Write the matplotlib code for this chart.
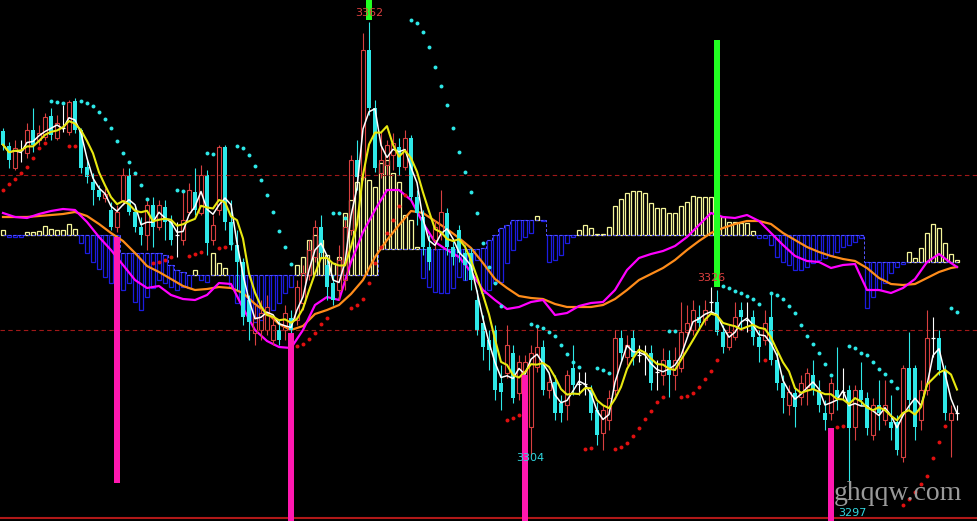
import numpy as np
import pandas as pd
import matplotlib
matplotlib.use("Agg")
import matplotlib.pyplot as plt

# K线数据 (每根K线: 开, 收, 高, 低)
opens = [
    3347.5, 3345.5, 3342.6, 3345.0, 3344.6, 3347.7, 3346.3, 3346.7, 3349.5, 3346.6,
    3347.9, 3347.4, 3351.5, 3347.7, 3342.7, 3340.7, 3339.7, 3338.6, 3337.0, 3334.7,
    3338.3, 3341.7, 3336.7, 3334.7, 3333.7, 3337.7, 3334.7, 3337.4, 3335.4, 3333.7,
    3333.0, 3336.7, 3339.4, 3336.6, 3341.7, 3333.0, 3337.0, 3345.4, 3335.4, 3332.3,
    3330.1, 3325.0, 3320.6, 3321.0, 3321.0, 3319.7, 3321.0, 3321.0, 3322.6, 3322.3,
    3324.6, 3328.3, 3330.7, 3334.7, 3329.7, 3327.3, 3326.3, 3327.7, 3334.3, 3343.7,
    3341.4, 3358.3, 3350.6, 3341.9, 3343.0, 3344.3, 3345.4, 3342.7, 3346.6, 3338.7,
    3336.1, 3332.1, 3333.0, 3333.9, 3336.6, 3332.1, 3334.3, 3331.3, 3331.3, 3325.0,
    3321.9, 3319.7, 3321.0, 3313.9, 3315.3, 3317.9, 3312.6, 3311.7, 3308.1, 3316.1,
    3318.7, 3313.0, 3314.1, 3311.3, 3311.0, 3315.9, 3313.8, 3313.8, 3313.0, 3310.3,
    3307.3, 3309.0, 3313.0, 3319.9, 3317.4, 3319.9, 3317.7, 3317.9, 3317.9, 3315.4,
    3315.0, 3317.0, 3315.0, 3315.9, 3320.7, 3321.0, 3322.7, 3322.3, 3324.7, 3324.7,
    3320.7, 3318.7, 3320.1, 3323.7, 3322.3, 3322.7, 3320.1, 3319.7, 3322.7, 3317.0,
    3313.9, 3311.0, 3312.6, 3312.1, 3313.4, 3315.0, 3313.0, 3309.9, 3309.9, 3313.0,
    3312.7, 3313.0, 3308.1, 3313.0, 3311.9, 3307.0, 3311.0, 3309.0, 3308.7, 3308.7,
    3304.1, 3315.9, 3315.9, 3309.0, 3313.0, 3319.9, 3319.9, 3315.7, 3309.0, 3309.9,
]
closes = [
    3345.7, 3343.7, 3345.3, 3345.0, 3347.7, 3345.7, 3347.3, 3349.4, 3347.0, 3348.6,
    3347.9, 3351.4, 3347.7, 3342.6, 3341.4, 3339.7, 3338.7, 3339.1, 3334.7, 3336.7,
    3341.7, 3336.7, 3334.7, 3333.7, 3337.7, 3334.7, 3337.7, 3335.4, 3333.0, 3333.7,
    3335.7, 3339.7, 3337.0, 3341.7, 3332.6, 3335.0, 3345.4, 3335.4, 3332.3, 3330.1,
    3322.7, 3322.1, 3322.7, 3323.3, 3324.1, 3321.7, 3319.7, 3323.3, 3321.0, 3326.7,
    3328.6, 3331.7, 3334.7, 3331.3, 3326.7, 3325.0, 3330.3, 3334.7, 3343.7, 3341.4,
    3358.3, 3350.6, 3342.6, 3343.7, 3345.7, 3345.9, 3342.7, 3346.6, 3338.7, 3336.6,
    3332.1, 3330.1, 3334.7, 3336.7, 3332.1, 3330.7, 3331.3, 3329.7, 3327.7, 3321.0,
    3318.7, 3318.3, 3313.0, 3312.7, 3319.0, 3311.9, 3316.7, 3316.7, 3317.9, 3318.7,
    3313.0, 3314.1, 3309.9, 3309.9, 3315.0, 3313.7, 3313.8, 3313.8, 3309.9, 3307.0,
    3310.3, 3311.9, 3319.9, 3317.9, 3319.0, 3317.4, 3317.7, 3317.9, 3313.9, 3315.4,
    3317.0, 3315.0, 3317.0, 3320.7, 3321.9, 3323.7, 3321.9, 3323.7, 3324.7, 3320.7,
    3318.7, 3320.7, 3322.7, 3322.7, 3322.3, 3320.1, 3318.7, 3321.9, 3317.0, 3313.9,
    3311.9, 3312.7, 3310.7, 3313.9, 3315.3, 3313.0, 3311.0, 3309.0, 3313.9, 3312.1,
    3312.7, 3307.9, 3313.0, 3311.7, 3307.9, 3311.0, 3309.9, 3311.0, 3307.9, 3305.0,
    3315.9, 3311.7, 3308.1, 3313.0, 3319.9, 3319.9, 3315.7, 3309.9, 3309.9, 3309.9,
]
highs = [
    3347.9, 3346.1, 3346.3, 3346.3, 3348.6, 3350.6, 3348.3, 3349.9, 3350.6, 3349.7,
    3351.0, 3351.7, 3351.9, 3347.9, 3343.7, 3341.9, 3340.3, 3339.9, 3338.1, 3337.7,
    3342.6, 3342.6, 3337.7, 3336.1, 3338.3, 3338.7, 3338.3, 3338.3, 3336.3, 3335.4,
    3339.7, 3340.6, 3342.6, 3343.0, 3342.3, 3336.3, 3345.7, 3345.7, 3338.3, 3334.3,
    3330.6, 3325.7, 3324.3, 3325.0, 3325.7, 3323.0, 3322.3, 3324.3, 3323.7, 3327.7,
    3329.7, 3333.0, 3335.7, 3336.3, 3331.0, 3328.3, 3332.3, 3336.3, 3344.3, 3346.3,
    3360.6, 3362.0, 3351.7, 3347.4, 3346.3, 3347.3, 3346.6, 3347.7, 3347.0, 3339.7,
    3337.0, 3333.7, 3335.7, 3339.7, 3337.3, 3333.0, 3335.0, 3332.3, 3331.9, 3326.3,
    3323.0, 3321.0, 3321.7, 3316.3, 3321.7, 3319.0, 3317.7, 3317.7, 3319.0, 3321.7,
    3319.7, 3315.0, 3315.0, 3312.3, 3315.7, 3319.0, 3315.4, 3315.4, 3313.7, 3311.4,
    3311.0, 3313.0, 3321.0, 3321.0, 3320.3, 3321.0, 3319.0, 3319.0, 3319.0, 3317.0,
    3318.6, 3318.3, 3318.7, 3324.7, 3324.3, 3325.0, 3324.3, 3325.0, 3326.7, 3326.3,
    3321.7, 3321.7, 3324.7, 3324.7, 3324.7, 3323.7, 3321.0, 3323.7, 3325.9, 3318.3,
    3315.0, 3313.7, 3313.3, 3315.0, 3315.9, 3317.0, 3314.3, 3311.7, 3314.6, 3318.7,
    3315.9, 3313.7, 3313.7, 3316.7, 3312.7, 3311.9, 3314.3, 3314.3, 3312.3, 3309.7,
    3316.3, 3320.7, 3316.3, 3314.3, 3323.7, 3322.7, 3321.0, 3316.3, 3311.0, 3311.0,
]
lows = [
    3345.0, 3342.6, 3342.3, 3343.4, 3343.9, 3344.7, 3345.7, 3346.3, 3346.3, 3346.3,
    3347.4, 3347.0, 3347.3, 3341.9, 3340.6, 3337.7, 3338.3, 3338.1, 3334.3, 3334.1,
    3337.7, 3336.3, 3334.1, 3332.3, 3331.7, 3332.1, 3334.3, 3333.0, 3332.3, 3330.7,
    3332.3, 3336.3, 3336.3, 3336.3, 3331.0, 3332.3, 3336.3, 3334.3, 3331.7, 3326.3,
    3321.7, 3319.7, 3319.0, 3319.7, 3320.3, 3319.0, 3319.0, 3319.7, 3319.9, 3321.7,
    3323.7, 3327.7, 3330.1, 3330.6, 3325.0, 3324.3, 3325.0, 3326.3, 3333.7, 3339.7,
    3341.0, 3349.7, 3342.1, 3341.3, 3341.7, 3342.3, 3341.7, 3342.3, 3338.3, 3335.0,
    3331.0, 3329.0, 3331.7, 3333.0, 3331.0, 3329.7, 3330.1, 3327.7, 3326.3, 3320.3,
    3317.0, 3315.7, 3311.7, 3310.3, 3314.6, 3311.3, 3311.7, 3307.3, 3304.3, 3315.4,
    3312.3, 3311.9, 3309.0, 3308.7, 3309.0, 3312.3, 3312.3, 3312.3, 3309.0, 3305.7,
    3305.0, 3307.7, 3312.3, 3317.0, 3316.3, 3316.3, 3316.7, 3315.0, 3313.0, 3313.0,
    3313.7, 3312.1, 3313.0, 3315.4, 3320.3, 3320.3, 3321.0, 3321.7, 3323.3, 3320.3,
    3317.9, 3318.3, 3319.7, 3321.0, 3320.7, 3319.0, 3316.7, 3319.0, 3316.3, 3313.0,
    3309.9, 3309.7, 3308.1, 3311.0, 3311.0, 3312.3, 3310.1, 3307.7, 3309.0, 3310.3,
    3311.7, 3299.5, 3306.3, 3311.0, 3307.0, 3306.3, 3307.7, 3308.3, 3306.3, 3304.3,
    3303.4, 3310.3, 3306.3, 3307.7, 3312.3, 3317.4, 3315.0, 3309.0, 3304.1, 3309.0,
]

# SAR 点
sar = [
    3339.7, 3340.5, 3341.1, 3341.9, 3342.7, 3343.9, 3345.3, 3345.9, 3351.5, 3351.4,
    3351.3, 3345.5, 3345.5, 3351.5, 3351.3, 3350.9, 3350.1, 3349.1, 3347.9, 3346.2,
    3344.6, 3343.4, 3341.9, 3340.3, 3338.5, 3329.9, 3330.1, 3330.3, 3330.7, 3339.7,
    3339.5, 3330.9, 3331.1, 3331.4, 3344.6, 3344.5, 3331.9, 3332.1, 3332.6, 3345.5,
    3345.3, 3344.3, 3342.9, 3341.0, 3339.0, 3336.7, 3334.2, 3332.1, 3329.8, 3318.9,
    3319.1, 3319.8, 3320.6, 3321.8, 3322.6, 3336.6, 3336.6, 3335.9, 3323.9, 3324.3,
    3325.1, 3327.3, 3329.9, 3332.1, 3333.9, 3335.7, 3337.5, 3339.0, 3362.3, 3361.9,
    3360.7, 3358.7, 3356.1, 3353.5, 3351.0, 3347.9, 3344.7, 3342.1, 3339.4, 3336.6,
    3332.6, 3329.4, 3327.3, 3324.2, 3309.0, 3309.3, 3309.7, 3310.1, 3321.8, 3321.5,
    3321.3, 3320.7, 3320.2, 3319.0, 3317.8, 3316.7, 3316.1, 3305.1, 3305.3, 3315.9,
    3315.7, 3315.3, 3305.1, 3305.4, 3305.9, 3306.9, 3307.9, 3309.1, 3310.2, 3311.4,
    3312.1, 3320.9, 3320.9, 3312.1, 3312.2, 3312.6, 3313.4, 3314.5, 3315.5, 3317.0,
    3326.9, 3326.6, 3326.2, 3325.9, 3325.5, 3325.1, 3324.5, 3317.0, 3325.9, 3325.7,
    3325.1, 3324.2, 3323.3, 3321.7, 3320.2, 3319.1, 3317.9, 3316.5, 3315.0, 3308.1,
    3308.2, 3318.9, 3318.6, 3317.9, 3317.7, 3316.7, 3315.8, 3315.1, 3314.2, 3313.3,
    3297.7, 3298.5, 3299.4, 3300.5, 3301.5, 3303.9, 3306.1, 3308.2, 3323.9, 3323.4,
]

# 副图指标 (柱状: 基线 + 终点, 两条线每两根K线取一个值)
hist_base = ([0.0] * 20 + [-1.8] * 7 + [-2.0, -3.0, -3.5, -3.7] + [-4.0] * 32
             + [-1.4] * 17 + [-1.3, -0.5, 0.0, 0.7, 1.0] + [1.5] * 6
             + [0.0] * 53 + [-2.7] * 16)
hist_end = [
    0.5, -0.2, -0.2, -0.2, 0.3, 0.3, 0.4, 0.9, 0.6, 0.5,
    0.5, 1.1, 0.6, -0.8, -1.8, -2.7, -3.4, -4.2, -4.8, -5.0,
    -5.5, -4.8, -6.7, -7.5, -6.2, -5.3, -4.5, -4.8, -5.2, -5.5,
    -5.2, -5.3, -3.5, -4.5, -4.7, -1.8, -2.8, -3.3, -5.2, -6.8,
    -7.8, -8.5, -8.7, -8.5, -7.8, -7.5, -6.8, -5.8, -5.2, -3.0,
    -2.2, -0.5, 0.0, -0.5, -2.0, -2.8, -2.2, 2.2, 3.5, 5.3,
    5.8, 5.5, 4.8, 7.2, 7.5, 6.2, 5.3, 2.0, 1.5, -1.2,
    -4.3, -5.2, -5.7, -5.8, -5.8, -5.3, -4.2, -4.5, -3.5, -2.5,
    -5.8, -5.5, -4.8, -4.7, -2.8, -1.5, -0.5, -0.2, 0.2, 1.9,
    1.4, -2.7, -2.5, -2.0, -0.8, -0.2, 0.5, 1.0, 0.7, 0.1,
    0.1, 0.8, 2.9, 3.6, 4.2, 4.4, 4.4, 4.2, 3.2, 2.7,
    2.7, 2.2, 2.2, 2.9, 3.3, 3.9, 3.8, 3.8, 3.8, 2.3,
    1.8, 1.3, 1.3, 1.2, 1.2, 0.4, -0.3, -0.3, -1.0, -2.2,
    -2.7, -3.0, -3.5, -3.5, -3.2, -2.8, -2.5, -2.3, -2.0, -1.7,
    -1.2, -1.0, -0.7, -0.3, -7.3, -6.2, -5.5, -4.8, -3.8, -3.2,
    -2.9, -1.7, -2.3, -1.3, 0.2, 1.1, 0.7, -0.8, -1.9, -2.5,
]
line_magenta = [
    2.2, 1.8, 1.7, 2.1, 2.4, 2.6, 2.5, 1.3, -0.2, -1.5,
    -3.0, -4.5, -5.3, -5.1, -6.0, -6.4, -6.5, -6.0, -4.8, -4.9,
    -7.3, -9.5, -10.6, -11.2, -11.3, -9.5, -7.0, -6.2, -6.5, -2.7,
    0.3, 2.5, 4.5, 4.5, 3.5, 1.2, -0.7, -1.5, -2.2, -3.7,
    -5.5, -6.5, -7.4, -7.2, -6.7, -6.5, -8.0, -7.8, -7.1, -6.8,
    -6.7, -5.5, -3.5, -2.3, -1.9, -1.6, -1.1, -0.2, 1.0, 2.2,
    1.8, 1.7, 2.0, 1.4, 0.2, -1.0, -2.1, -2.6, -2.7, -3.3,
    -3.0, -2.9, -5.5, -5.5, -5.8, -5.3, -4.4, -2.7, -1.9, -2.8,
    -3.2,
]
line_orange = [
    1.8, 1.8, 1.8, 1.9, 2.0, 2.1, 2.3, 1.9, 1.1, 0.2,
    -0.6, -1.8, -3.1, -3.7, -4.4, -5.1, -5.5, -5.4, -5.2, -5.3,
    -5.8, -6.9, -7.8, -8.9, -9.5, -9.1, -7.9, -7.5, -7.0, -5.9,
    -4.5, -2.2, -0.5, 1.0, 2.4, 2.2, 1.4, 0.6, -0.3, -1.3,
    -2.8, -4.4, -5.3, -6.1, -6.3, -6.4, -6.9, -7.2, -7.2, -7.2,
    -7.0, -6.4, -5.5, -4.5, -3.9, -3.3, -2.5, -1.5, -0.6, 0.2,
    0.7, 1.1, 1.4, 1.4, 1.1, 0.2, -0.5, -1.2, -1.7, -2.1,
    -2.4, -2.6, -3.3, -4.3, -4.9, -5.0, -4.9, -4.3, -3.7, -3.3,
    -3.2,
]

# 信号柱与标注
pink_idx = [19, 48, 87, 138]
pink_top = [3333.4, 3320.6, 3315.0, 3307.9]
pink_bot = [3300.6, 3295.5, 3295.5, 3295.5]
green_idx = [61, 119]
green_top = [3365.0, 3359.7]
green_bot = [3362.3, 3326.7]
mark_text = ["3362", "3326", "3304", "3297"]
mark_idx = [61, 118, 87.8, 141.5]
mark_price = [3363.2, 3327.9, 3303.9, 3296.6]
mark_color = ["#e04040", "#e04040", "#30d8e0", "#30d8e0"]
level_lines = [3341.6, 3321.0]

RED = "#d84040"
CYAN = "#2ee8e8"

o = np.array(opens)
c = np.array(closes)
h = np.array(highs)
l = np.array(lows)
s = np.array(sar)
n = len(c)
x = np.arange(n)

fig = plt.figure(figsize=(9.78, 5.21), dpi=100, facecolor="black")
ax = fig.add_axes([0, 0, 1, 1])
ax2 = ax.twinx()
ax.set_zorder(ax2.get_zorder() + 1)
ax.patch.set_visible(False)
ax2.set_facecolor("black")

# 副图
hb = np.array(hist_base)
he = np.array(hist_end)
pos = he >= hb
ax2.bar(x[pos], (he - hb)[pos], bottom=hb[pos], width=0.62, fill=False,
        edgecolor="#f5f59a", linewidth=0.9)
ax2.bar(x[~pos], (he - hb)[~pos], bottom=hb[~pos], width=0.62, fill=False,
        edgecolor="#1c1ce0", linewidth=0.9)
ax2.step(x, hb, where="mid", color="#5555ff", lw=0.7, ls=(0, (3, 2)))
ix = np.r_[np.arange(0, n, 2), n - 1]
ax2.plot(ix, line_orange, color="#ff8c1a", lw=1.6)
ax2.plot(ix, line_magenta, color="#ff00ff", lw=1.6)
ax2.set_ylim(-28.6, 23.5)
ax2.set_xlim(-0.5, 162.5)
ax2.axis("off")

# 水平线
for lv in level_lines:
    ax.axhline(lv, color="#a01818", lw=0.8, ls=(0, (4, 3)))
ax.axhline(3295.9, color="#b01818", lw=1.5)

# K线
up = c > o
down = c < o
doji = c == o
top = np.maximum(o, c)
bot = np.minimum(o, c)
ax.vlines(x[up], top[up], h[up], color=RED, lw=0.8)
ax.vlines(x[up], l[up], bot[up], color=RED, lw=0.8)
ax.bar(x[up], (c - o)[up], bottom=o[up], width=0.72, fill=False,
       edgecolor=RED, linewidth=0.8)
ax.vlines(x[down], l[down], h[down], color=CYAN, lw=0.8)
ax.bar(x[down], (o - c)[down], bottom=c[down], width=0.72, color=CYAN, linewidth=0)
ax.vlines(x[doji], l[doji], h[doji], color="white", lw=0.8)
ax.hlines(c[doji], x[doji] - 0.4, x[doji] + 0.4, color="white", lw=0.9)

# 均线
cs = pd.Series(c)
ax.plot(x, cs.rolling(3, min_periods=1).mean(), color="white", lw=1.1)
ax.plot(x, cs.rolling(5, min_periods=1).mean(), color="#e8e810", lw=1.5)

# SAR
above = s > c
ax.scatter(x[above], s[above], s=8, color=CYAN, linewidths=0, zorder=5)
ax.scatter(x[~above], s[~above], s=8, color="#e01010", linewidths=0, zorder=5)

# 信号柱
ax.bar(pink_idx, np.array(pink_top) - np.array(pink_bot), bottom=pink_bot,
       width=0.85, color="#ff18b0", zorder=6)
ax.bar(green_idx, np.array(green_top) - np.array(green_bot), bottom=green_bot,
       width=1.0, color="#22ff22", zorder=6)

ax.text(0.853, 0.028, "ghqqw.com", transform=ax.transAxes, color="#9a9a9a",
        fontsize=20, family=["Liberation Serif", "DejaVu Serif"],
        ha="left", va="bottom", zorder=8)

for t, xi, yi, col in zip(mark_text, mark_idx, mark_price, mark_color):
    ax.text(xi, yi, t, color=col, fontsize=8, ha="center", va="center",
            family="DejaVu Sans", zorder=9)

ax.set_xlim(-0.5, 162.5)
ax.set_ylim(3295.53, 3365.0)
ax.axis("off")

fig.savefig("out.png", dpi=100, facecolor="black")
